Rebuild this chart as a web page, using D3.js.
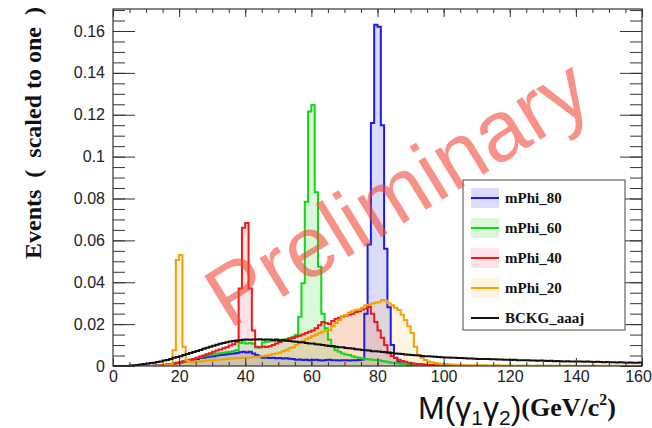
<!DOCTYPE html>
<html><head><meta charset="utf-8">
<script src="https://cdn.jsdelivr.net/npm/d3@7"></script>
<style>body{margin:0;background:#fff}svg{display:block}</style>
</head><body>
<svg id="c" width="652" height="428"></svg>
<script>
// ---- data (1 GeV bins, 0..160) ----
const binEdges = d3.range(0, 161);
const mPhi80 = [
0,0,0,0,0,0,0,0,0,0,
0,0,0.0001,0.0002,0.0003,0.0005,0.0007,0.0009,0.0012,0.0015,
0.0018,0.0021,0.0025,0.0028,0.0031,0.0034,0.0038,0.0040,0.0043,0.0045,
0.0047,0.0050,0.0052,0.0054,0.0056,0.0058,0.0060,0.0062,0.0066,0.0068,
0.0065,0.0068,0.0060,0.0052,0.0045,0.0040,0.0041,0.0038,0.0040,0.0037,
0.0038,0.0036,0.0037,0.0035,0.0033,0.0030,0.0031,0.0029,0.0030,0.0028,
0.0029,0.0030,0.0028,0.0026,0.0029,0.0030,0.0027,0.0028,0.0026,0.0027,
0.0028,0.0026,0.0027,0.0028,0.0029,0.0031,0.0250,0.0580,0.1160,0.1630,
0.1620,0.1150,0.0560,0.0280,0.0100,0.0040,0.0020,0.0012,0.0008,0.0005,
0.0004,0.0003,0.0002,0.0002,0.0001,0.0001,0,0,0,0,
0,0,0,0,0,0,0,0,0,0,
0,0,0,0,0,0,0,0,0,0,
0,0,0,0,0,0,0,0,0,0,
0,0,0,0,0,0,0,0,0,0,
0,0,0,0,0,0,0,0,0,0,
0,0,0,0,0,0,0,0,0,0];
const mPhi60 = [
0,0,0,0,0,0,0,0,0,0,
0,0,0,0,0.0001,0.0003,0.0005,0.0008,0.0011,0.0014,
0.0018,0.0022,0.0026,0.0030,0.0034,0.0038,0.0042,0.0046,0.0050,0.0054,
0.0056,0.0059,0.0061,0.0063,0.0066,0.0068,0.0070,0.0076,0.0110,0.0112,
0.0108,0.0110,0.0106,0.0088,0.0090,0.0112,0.0116,0.0118,0.0121,0.0119,
0.0124,0.0126,0.0128,0.0134,0.0140,0.0148,0.0235,0.0395,0.0785,0.1215,
0.1246,0.0830,0.0474,0.0250,0.0180,0.0125,0.0092,0.0075,0.0068,0.0060,
0.0055,0.0052,0.0046,0.0042,0.0039,0.0036,0.0034,0.0032,0.0030,0.0029,
0.0027,0.0024,0.0021,0.0018,0.0016,0.0014,0.0012,0.0010,0.0009,0.0008,
0.0007,0.0006,0.0005,0.0004,0.0004,0.0003,0.0003,0.0002,0.0002,0.0001,
0.0001,0.0001,0.0001,0,0,0,0,0,0,0,
0,0,0,0,0,0,0,0,0,0,
0,0,0,0,0,0,0,0,0,0,
0,0,0,0,0,0,0,0,0,0,
0,0,0,0,0,0,0,0,0,0,
0,0,0,0,0,0,0,0,0,0];
const mPhi40 = [
0,0,0,0,0,0,0,0,0,0,
0,0,0.0001,0.0002,0.0003,0.0005,0.0007,0.0009,0.0011,0.0014,
0.0017,0.0021,0.0025,0.0030,0.0034,0.0040,0.0045,0.0050,0.0056,0.0061,
0.0068,0.0074,0.0079,0.0085,0.0090,0.0098,0.0104,0.0116,0.0370,0.0660,
0.0683,0.0370,0.0170,0.0092,0.0090,0.0093,0.0091,0.0094,0.0100,0.0108,
0.0115,0.0122,0.0125,0.0130,0.0134,0.0140,0.0145,0.0150,0.0158,0.0164,
0.0170,0.0180,0.0195,0.0210,0.0205,0.0200,0.0215,0.0225,0.0230,0.0236,
0.0240,0.0245,0.0250,0.0258,0.0262,0.0270,0.0275,0.0283,0.0250,0.0210,
0.0170,0.0135,0.0100,0.0065,0.0048,0.0038,0.0030,0.0024,0.0020,0.0016,
0.0013,0.0011,0.0010,0.0008,0.0007,0.0006,0.0005,0.0004,0.0004,0.0003,
0.0003,0.0002,0.0002,0.0002,0.0001,0.0001,0.0001,0,0,0,
0,0,0,0,0,0,0,0,0,0,
0,0,0,0,0,0,0,0,0,0,
0,0,0,0,0,0,0,0,0,0,
0,0,0,0,0,0,0,0,0,0,
0,0,0,0,0,0,0,0,0,0];
const mPhi20 = [
0,0,0,0,0,0,0,0,0,0,
0,0,0,0.0001,0.0002,0.0003,0.0005,0.0007,0.0075,0.0506,
0.0530,0.0092,0.0025,0.0018,0.0020,0.0021,0.0022,0.0024,0.0026,0.0027,
0.0028,0.0030,0.0031,0.0032,0.0033,0.0035,0.0036,0.0037,0.0038,0.0039,
0.0040,0.0041,0.0043,0.0044,0.0045,0.0047,0.0050,0.0053,0.0057,0.0060,
0.0065,0.0070,0.0076,0.0085,0.0090,0.0100,0.0110,0.0120,0.0128,0.0135,
0.0143,0.0150,0.0158,0.0165,0.0170,0.0172,0.0190,0.0205,0.0220,0.0235,
0.0244,0.0255,0.0262,0.0267,0.0270,0.0278,0.0290,0.0292,0.0298,0.0302,
0.0305,0.0315,0.0312,0.0300,0.0290,0.0278,0.0267,0.0245,0.0220,0.0190,
0.0158,0.0092,0.0053,0.0040,0.0029,0.0022,0.0018,0.0014,0.0012,0.0010,
0.0009,0.0008,0.0007,0.0006,0.0005,0.0005,0.0004,0.0004,0.0003,0.0003,
0.0003,0.0002,0.0003,0.0002,0.0002,0.0002,0.0003,0.0002,0.0002,0.0002,
0.0002,0.0001,0.0002,0.0002,0.0001,0.0002,0.0001,0.0001,0.0002,0.0001,
0.0001,0.0001,0.0002,0.0001,0.0001,0.0001,0.0001,0.0002,0.0001,0.0001,
0.0001,0.0001,0.0001,0.0001,0.0001,0.0002,0.0001,0.0001,0.0001,0.0001,
0.0001,0.0001,0.0001,0.0001,0.0001,0.0001,0.0001,0.0001,0.0001,0.0001];
const bckgAaaj = [
0,0,0,0,0,0.0002,0.0003,0.0005,0.0007,0.0009,
0.0011,0.0014,0.0016,0.0019,0.0022,0.0026,0.0029,0.0034,0.0039,0.0043,
0.0047,0.0052,0.0057,0.0062,0.0067,0.0072,0.0077,0.0082,0.0087,0.0092,
0.0097,0.0101,0.0106,0.0110,0.0114,0.0117,0.0119,0.0122,0.0123,0.0125,
0.0126,0.0125,0.0127,0.0126,0.0128,0.0125,0.0127,0.0126,0.0124,0.0126,
0.0122,0.0123,0.0120,0.0119,0.0117,0.0116,0.0114,0.0113,0.0110,0.0108,
0.0107,0.0104,0.0103,0.0100,0.0098,0.0096,0.0095,0.0092,0.0090,0.0089,
0.0086,0.0085,0.0083,0.0080,0.0079,0.0077,0.0075,0.0074,0.0071,0.0070,
0.0069,0.0067,0.0066,0.0063,0.0062,0.0060,0.0058,0.0057,0.0055,0.0054,
0.0052,0.0051,0.0050,0.0048,0.0047,0.0046,0.0045,0.0044,0.0043,0.0042,
0.0041,0.0041,0.0040,0.0039,0.0038,0.0038,0.0037,0.0036,0.0036,0.0035,
0.0034,0.0034,0.0033,0.0033,0.0032,0.0032,0.0031,0.0031,0.0030,0.0030,
0.0029,0.0030,0.0028,0.0028,0.0027,0.0028,0.0026,0.0026,0.0025,0.0026,
0.0025,0.0024,0.0025,0.0023,0.0024,0.0023,0.0022,0.0023,0.0022,0.0021,
0.0022,0.0021,0.0020,0.0021,0.0020,0.0019,0.0020,0.0019,0.0018,0.0019,
0.0018,0.0018,0.0017,0.0018,0.0017,0.0016,0.0017,0.0016,0.0016,0.0017];
const seriesNames = ["mPhi_80","mPhi_60","mPhi_40","mPhi_20","BCKG_aaaj"];
const xTickValues = [0,20,40,60,80,100,120,140,160];
const xTickLabels = ["0","20","40","60","80","100","120","140","160"];
const yTickValues = [0,0.02,0.04,0.06,0.08,0.1,0.12,0.14,0.16];
const yTickLabels = ["0","0.02","0.04","0.06","0.08","0.1","0.12","0.14","0.16"];

// ---- styling ----
const series = [
  {name:seriesNames[0], vals:mPhi80, stroke:"#1c1ce8", fill:"rgba(40,40,230,0.17)"},
  {name:seriesNames[1], vals:mPhi60, stroke:"#16d416", fill:"rgba(0,200,0,0.15)"},
  {name:seriesNames[2], vals:mPhi40, stroke:"#f01818", fill:"rgba(240,60,90,0.14)"},
  {name:seriesNames[3], vals:mPhi20, stroke:"#f8a000", fill:"rgba(250,190,60,0.16)"},
  {name:seriesNames[4], vals:bckgAaaj, stroke:"#111", fill:null}
];

const svg = d3.select("#c");
const L=113, R=642, T=9, B=366;
const x = d3.scaleLinear().domain([0,160]).range([L,R]);
const y = d3.scaleLinear().domain([0,0.1705]).range([B,T]);

svg.append("clipPath").attr("id","clip").append("rect")
  .attr("x",L).attr("y",T).attr("width",R-L).attr("height",B-T);

const gPlot = svg.append("g").attr("clip-path","url(#clip)");
function pts(vals){
  const p=[[0,0]];
  vals.forEach((v,i)=>p.push([binEdges[i],v]));
  p.push([binEdges[160],vals[159]]);
  p.push([binEdges[160],0]);
  return p;
}
const line = d3.line().x(d=>x(d[0])).y(d=>y(d[1])).curve(d3.curveStepAfter);
const area = d3.area().x(d=>x(d[0])).y0(y(0)).y1(d=>y(d[1])).curve(d3.curveStepAfter);
series.forEach(s=>{
  const p = pts(s.vals);
  if (s.fill) gPlot.append("path").attr("d",area(p)).attr("fill",s.fill).attr("stroke","none");
});
series.forEach(s=>{
  const p = pts(s.vals);
  gPlot.append("path").attr("d",line(p)).attr("fill","none")
    .attr("stroke",s.stroke).attr("stroke-width",2).attr("stroke-linejoin","miter");
});

// ---- axes ----
const axCol="#333";
const font="'Liberation Sans', Arial, sans-serif";
function styleAxis(g){
  g.select(".domain").remove();
  g.selectAll("line").attr("stroke",axCol).attr("stroke-width",1);
  g.selectAll("text").attr("font-family",font).attr("font-size",16).attr("fill","#222");
}
const xMinor = d3.range(0,161,5);
const yMinor = d3.range(0,0.1705,0.005);
// bottom
svg.append("g").attr("transform",`translate(0,${B})`)
  .call(d3.axisBottom(x).tickValues(xMinor).tickSize(-4).tickFormat(""))
  .call(styleAxis);
const xb = svg.append("g").attr("transform",`translate(0,${B})`)
  .call(d3.axisBottom(x).tickValues(xTickValues).tickSize(-8).tickPadding(5)
    .tickFormat((d,i)=>xTickLabels[i]))
  .call(styleAxis);
xb.selectAll("text").filter(d=>d===160).attr("dx",-4);
// top
svg.append("g").attr("transform",`translate(0,${T})`)
  .call(d3.axisTop(x).tickValues(xMinor).tickSize(-4).tickFormat("")).call(styleAxis);
svg.append("g").attr("transform",`translate(0,${T})`)
  .call(d3.axisTop(x).tickValues(xTickValues).tickSize(-8).tickFormat("")).call(styleAxis);
// left
svg.append("g").attr("transform",`translate(${L},0)`)
  .call(d3.axisLeft(y).tickValues(yMinor).tickSize(-12).tickFormat("")).call(styleAxis);
svg.append("g").attr("transform",`translate(${L},0)`)
  .call(d3.axisLeft(y).tickValues(yTickValues).tickSize(-22).tickPadding(8)
    .tickFormat((d,i)=>yTickLabels[i]))
  .call(styleAxis);
// right
svg.append("g").attr("transform",`translate(${R},0)`)
  .call(d3.axisRight(y).tickValues(yMinor).tickSize(-12).tickFormat("")).call(styleAxis);
svg.append("g").attr("transform",`translate(${R},0)`)
  .call(d3.axisRight(y).tickValues(yTickValues).tickSize(-22).tickFormat("")).call(styleAxis);

svg.append("rect").attr("x",L).attr("y",T).attr("width",R-L).attr("height",B-T)
  .attr("fill","none").attr("stroke",axCol).attr("stroke-width",1.2);

// axis titles
const sf="'Liberation Serif', 'Times New Roman', serif";
svg.append("text").attr("transform","translate(41,133) rotate(-90)")
  .attr("text-anchor","middle").attr("font-family",sf)
  .attr("font-weight","bold").attr("font-size",24).attr("fill","#111")
  .attr("xml:space","preserve").text("Events  (  scaled to one  )");

const xt = svg.append("text").attr("x",418).attr("y",419).attr("fill","#111");
xt.append("tspan").attr("font-family",font).attr("font-size",32).text("M(γ");
xt.append("tspan").attr("font-family",font).attr("font-size",21).attr("dy",6).text("1");
xt.append("tspan").attr("font-family",font).attr("font-size",32).attr("dy",-6).text("γ");
xt.append("tspan").attr("font-family",font).attr("font-size",21).attr("dy",6).text("2");
xt.append("tspan").attr("font-family",font).attr("font-size",32).attr("dy",-6).text(")");
xt.append("tspan").attr("font-family",sf).attr("font-weight","bold").attr("font-size",26).attr("dy",-3).text("(GeV/c");
xt.append("tspan").attr("font-family",sf).attr("font-weight","bold").attr("font-size",16).attr("dy",-11).text("2");
xt.append("tspan").attr("font-family",sf).attr("font-weight","bold").attr("font-size",26).attr("dy",11).text(")");

// legend
const lg = svg.append("g");
lg.append("rect").attr("x",463).attr("y",180).attr("width",162).attr("height",150)
  .attr("fill","#fff").attr("stroke","#444").attr("stroke-width",1);
series.forEach((s,i)=>{
  const cy = 198 + i*30;
  if (s.fill) lg.append("rect").attr("x",471).attr("y",cy-10).attr("width",28).attr("height",20)
      .attr("fill",s.fill);
  lg.append("line").attr("x1",471).attr("x2",499).attr("y1",cy).attr("y2",cy)
    .attr("stroke",s.stroke).attr("stroke-width",2);
  lg.append("text").attr("x",505).attr("y",cy+5).attr("font-family",sf).attr("font-weight","bold")
    .attr("font-size",15).attr("fill","#111").text(s.name);
});

// watermark
svg.append("text").attr("transform","translate(397,192) rotate(-31.5)")
  .attr("text-anchor","middle").attr("dy","0.35em")
  .attr("font-family",font).attr("font-size",86).attr("fill","#f24a38").attr("fill-opacity",0.6)
  .text("Preliminary");
</script>
</body></html>
